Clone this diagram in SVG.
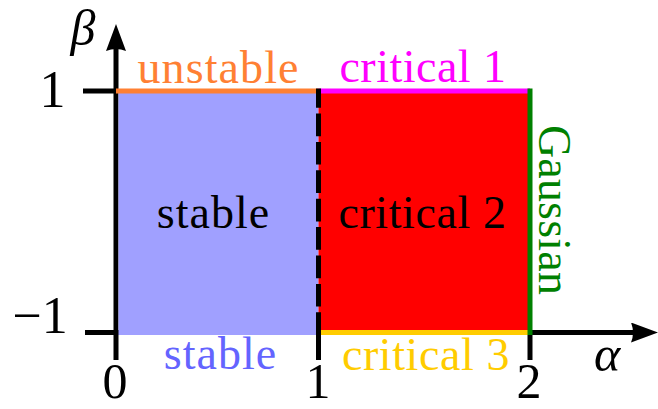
<svg xmlns="http://www.w3.org/2000/svg" width="658" height="409" viewBox="0 0 658 409">
<defs>
<marker id="arr" viewBox="0 0 27 20" refX="2" refY="10" markerWidth="27" markerHeight="20" markerUnits="userSpaceOnUse" orient="auto">
<path d="M0,0 Q4,10 0,20 L27,10 Z" fill="#000"/>
</marker>
</defs>
<rect width="658" height="409" fill="#fff"/>
<g id="axes" stroke="#000" stroke-width="5" fill="none">
<line x1="85" y1="332.5" x2="633" y2="332.5" marker-end="url(#arr)"/>
<line x1="116" y1="360" x2="116" y2="49" marker-end="url(#arr)"/>
<line x1="83" y1="91" x2="116" y2="91"/>
<line x1="318.5" y1="332" x2="318.5" y2="360"/>
<line x1="530" y1="332" x2="530" y2="360"/>
</g>
<g id="region-stable">
<rect x="118.5" y="91" width="200" height="244" fill="#a0a0ff"/>
<text font-family="Liberation Serif" font-size="46" letter-spacing="1" text-anchor="middle" x="213.5" y="228" fill="#000">stable</text>
</g>
<g id="region-critical2">
<rect x="318.5" y="91" width="211.5" height="241.5" fill="#ff0000"/>
<text font-family="Liberation Serif" font-size="46" letter-spacing="0.6" text-anchor="middle" x="422.5" y="228" fill="#000">critical 2</text>
</g>
<g id="edge-unstable">
<line x1="116" y1="91" x2="318.5" y2="91" stroke="#ff8033" stroke-width="5"/>
<text font-family="Liberation Serif" font-size="46" letter-spacing="1.1" text-anchor="middle" x="218.5" y="83" fill="#ff8033">unstable</text>
</g>
<g id="edge-critical1">
<line x1="318.5" y1="91" x2="530" y2="91" stroke="#ff00ff" stroke-width="5"/>
<text font-family="Liberation Serif" font-size="46" letter-spacing="0.5" text-anchor="middle" x="423" y="82" fill="#ff00ff">critical 1</text>
</g>
<g id="edge-critical3">
<line x1="318.5" y1="332.5" x2="530" y2="332.5" stroke="#ffcc00" stroke-width="5"/>
<text font-family="Liberation Serif" font-size="46" letter-spacing="0.6" text-anchor="middle" x="426" y="370" fill="#ffcc00">critical 3</text>
</g>
<g id="edge-stable-bottom">
<text font-family="Liberation Serif" font-size="46" letter-spacing="1" text-anchor="middle" x="220.5" y="369" fill="#6464ff">stable</text>
</g>
<g id="edge-gaussian">
<line x1="530" y1="88.5" x2="530" y2="335" stroke="#008000" stroke-width="5"/>
<text font-family="Liberation Serif" font-size="46" letter-spacing="0.2" text-anchor="middle" transform="translate(539,210) rotate(90)" x="0" y="0" fill="#008000">Gaussian</text>
</g>
<g id="boundary-dashed">
<line x1="318.5" y1="335" x2="318.5" y2="88.5" stroke="#000" stroke-width="5" stroke-dasharray="22.7 5.7"/>
</g>
<g id="tick-labels" fill="#000">
<text font-family="Liberation Serif" font-size="50" text-anchor="middle" x="115" y="398">0</text>
<text font-family="Liberation Serif" font-size="50" text-anchor="middle" x="318" y="398">1</text>
<text font-family="Liberation Serif" font-size="50" text-anchor="middle" x="529" y="398">2</text>
<text font-family="Liberation Serif" font-size="52" text-anchor="middle" x="52.5" y="107">1</text>
<text font-family="Liberation Serif" font-size="52" text-anchor="middle" x="40" y="333">−1</text>
<text font-family="Liberation Serif" font-size="50" font-style="italic" text-anchor="middle" x="607" y="371">α</text>
<text font-family="Liberation Serif" font-size="50" font-style="italic" text-anchor="middle" x="83" y="45">β</text>
</g>
</svg>
